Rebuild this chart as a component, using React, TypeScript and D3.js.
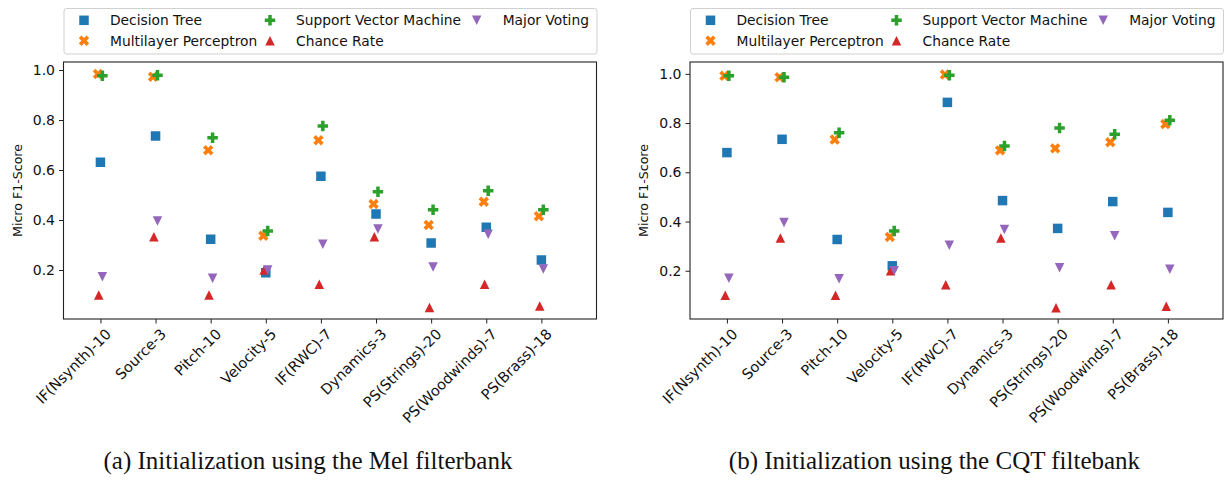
import { useEffect, useRef } from "react";
import { axisBottom, axisLeft, format, scaleLinear, select } from "d3";

const categories = [
  "IF(Nsynth)-10",
  "Source-3",
  "Pitch-10",
  "Velocity-5",
  "IF(RWC)-7",
  "Dynamics-3",
  "PS(Strings)-20",
  "PS(Woodwinds)-7",
  "PS(Brass)-18",
];
const seriesNames = [
  "Decision Tree",
  "Multilayer Perceptron",
  "Support Vector Machine",
  "Chance Rate",
  "Major Voting",
];
const yTicks = [0.2, 0.4, 0.6, 0.8, 1.0];

// (a) Mel filterbank
const melDecisionTree = [0.631, 0.736, 0.323, 0.189, 0.575, 0.424, 0.308, 0.371, 0.24];
const melMLP = [0.984, 0.973, 0.679, 0.337, 0.719, 0.464, 0.38, 0.473, 0.415];
const melSVM = [0.977, 0.979, 0.729, 0.356, 0.776, 0.513, 0.441, 0.517, 0.441];
const melVoting = [0.173, 0.396, 0.167, 0.2, 0.303, 0.364, 0.212, 0.343, 0.204];

// (b) CQT filterbank
const cqtDecisionTree = [0.68, 0.734, 0.327, 0.22, 0.884, 0.485, 0.372, 0.481, 0.437];
const cqtMLP = [0.992, 0.986, 0.733, 0.337, 0.997, 0.689, 0.697, 0.722, 0.796];
const cqtSVM = [0.992, 0.986, 0.761, 0.361, 0.994, 0.707, 0.78, 0.754, 0.811];
const cqtVoting = [0.17, 0.396, 0.168, 0.2, 0.304, 0.368, 0.212, 0.342, 0.206];

// 1 / number of classes
const chanceRate = [0.1, 0.333, 0.1, 0.2, 0.143, 0.333, 0.05, 0.143, 0.056];

const colors = ["#1f77b4", "#ff7f0e", "#2ca02c", "#d62728", "#9467bd"];
const shapes = ["square", "xfill", "plus", "triUp", "triDown"];
const shift = [0, -0.045, 0.035, -0.03, 0.035]; // small dodge in category units

const FONT = "'DejaVu Sans', Verdana, sans-serif";

function marker(shape: string, s: number) {
  const a = s / 2;
  if (shape === "square") return `M${-a},${-a}H${a}V${a}H${-a}Z`;
  if (shape === "triUp") return `M0,${-a}L${a},${a}L${-a},${a}Z`;
  if (shape === "triDown") return `M0,${a}L${a},${-a}L${-a},${-a}Z`;
  const h = s / 6;
  return `M${-h},${-a}H${h}V${-h}H${a}V${h}H${h}V${a}H${-h}V${h}H${-a}V${-h}H${-h}Z`;
}

function drawMarker(g: any, shape: string, color: string, x: number, y: number) {
  const size = shape === "square" ? 9.5 : shape === "plus" ? 10.5 : shape === "xfill" ? 11 : 9.5;
  g.append("path")
    .attr("d", marker(shape, size))
    .attr("fill", color)
    .attr(
      "transform",
      `translate(${x},${y})` + (shape === "xfill" ? " rotate(45)" : "")
    );
}

function drawPanel(
  svg: any,
  x0: number,
  yDomain: number[],
  series: number[][],
  caption: string
) {
  const top = 62;
  const bottom = 319;
  const width = 533;

  const x = scaleLinear().domain([-0.67, 9.0]).range([0, width]);
  const y = scaleLinear().domain(yDomain).range([bottom, top]);

  const g = svg.append("g").attr("transform", `translate(${x0},0)`);

  // y axis
  const ya = g.append("g").call(
    axisLeft(y).tickValues(yTicks).tickFormat(format(".1f")).tickSize(4.5).tickSizeOuter(0).tickPadding(4)
  );
  ya.select(".domain").remove();
  ya.selectAll("line").attr("stroke", "#222");
  ya.selectAll("text").attr("font-family", FONT).attr("font-size", 14).attr("fill", "#111");

  // x axis, rotated category labels
  const xa = g
    .append("g")
    .attr("transform", `translate(0,${bottom})`)
    .call(
      axisBottom(x)
        .tickValues(categories.map((_, i) => i))
        .tickFormat((i: any) => categories[i])
        .tickSize(4.5)
        .tickSizeOuter(0)
    );
  xa.select(".domain").remove();
  xa.selectAll("line").attr("stroke", "#222");
  xa.selectAll("text")
    .attr("font-family", FONT)
    .attr("font-size", 14.5)
    .attr("fill", "#111")
    .attr("text-anchor", "end")
    .attr("x", 0)
    .attr("y", 0)
    .attr("dy", 0)
    .attr("transform", "translate(11,16) rotate(-45)");

  g.append("text")
    .attr("transform", `translate(-42,${(top + bottom) / 2}) rotate(-90)`)
    .attr("text-anchor", "middle")
    .attr("font-family", FONT)
    .attr("font-size", 12.6)
    .attr("fill", "#111")
    .text("Micro F1-Score");

  // markers
  series.forEach((vals, s) => {
    vals.forEach((v, i) => {
      drawMarker(g, shapes[s], colors[s], x(i + shift[s]), y(v));
    });
  });

  // frame
  g.append("rect")
    .attr("x", 0)
    .attr("y", top)
    .attr("width", width)
    .attr("height", bottom - top)
    .attr("fill", "none")
    .attr("stroke", "#222")
    .attr("stroke-width", 1.1);

  // legend
  const lg = g.append("g");
  lg.append("rect")
    .attr("x", 0.5)
    .attr("y", 8.5)
    .attr("width", 533)
    .attr("height", 45.5)
    .attr("rx", 2.5)
    .attr("fill", "white")
    .attr("stroke", "#d0d0d0");
  const colX = [20.5, 206.5, 413.2];
  const rowY = [20.3, 40.7];
  seriesNames.forEach((name, s) => {
    const cx = colX[Math.floor(s / 2)];
    const cy = rowY[s % 2];
    drawMarker(lg, shapes[s], colors[s], cx, cy);
    lg.append("text")
      .attr("x", cx + 26)
      .attr("y", cy)
      .attr("dy", "0.36em")
      .attr("font-family", FONT)
      .attr("font-size", 13.8)
      .attr("fill", "#111")
      .text(name);
  });

  svg
    .append("text")
    .attr("x", x0 + width / 2 - 22)
    .attr("y", 469)
    .attr("text-anchor", "middle")
    .attr("font-family", "'Liberation Serif', 'Times New Roman', serif")
    .attr("font-size", 25)
    .attr("fill", "#111")
    .text(caption);
}

function App() {
  const ref = useRef<SVGSVGElement>(null);

  useEffect(() => {
    const svg = select(ref.current);
    svg.selectAll("*").remove();

    drawPanel(
      svg,
      63.5,
      [0.004, 1.032],
      [melDecisionTree, melMLP, melSVM, chanceRate, melVoting],
      "(a) Initialization using the Mel filterbank"
    );
    drawPanel(
      svg,
      690,
      [0.004, 1.048],
      [cqtDecisionTree, cqtMLP, cqtSVM, chanceRate, cqtVoting],
      "(b) Initialization using the CQT filtebank"
    );
  }, []);

  return (
    <svg
      ref={ref}
      width={1226}
      height={483}
      style={{ position: "absolute", left: 0, top: 0, background: "white" }}
    />
  );
}

export default App;
